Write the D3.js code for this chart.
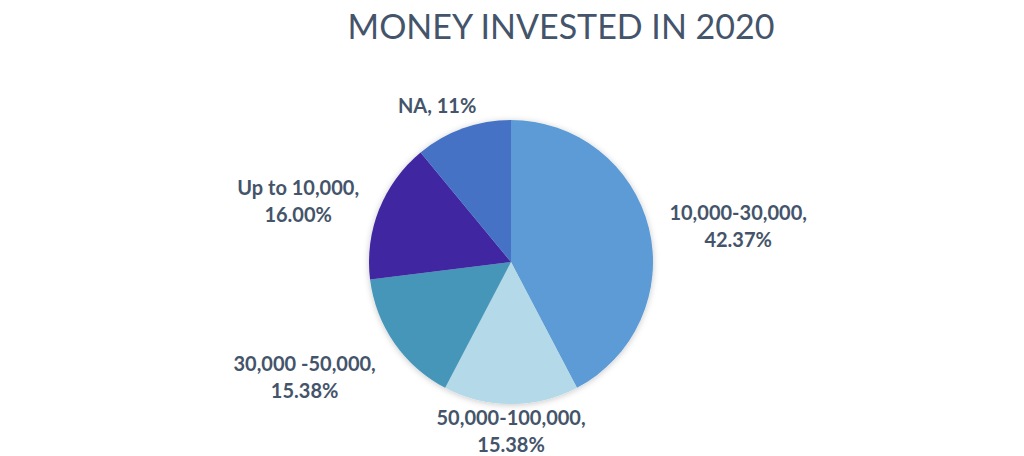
<!DOCTYPE html>
<html>
<head>
<meta charset="utf-8">
<script src="https://cdn.jsdelivr.net/npm/d3@7"></script>
<style>
  html, body { margin: 0; padding: 0; background: #fff; }
  .title { font-family: Lato, "Open Sans", sans-serif; font-weight: 400; fill: #44546A; }
  .lbl { font-family: Lato, "Open Sans", sans-serif; font-weight: 700; fill: #44546A; }
</style>
</head>
<body>
<svg id="chart" width="1024" height="456"></svg>
<script>
const categories = ["10,000-30,000", "50,000-100,000", "30,000 -50,000", "Up to 10,000", "NA"];
const shares = [42.37, 15.38, 15.38, 16.00, 11];
const shareText = ["42.37%", "15.38%", "15.38%", "16.00%", "11%"];
const colours = ["#5B9BD5", "#B4D9E8", "#4596B9", "#3F28A0", "#4472C4"];
// labels that Excel kept on one line
const oneLine = ["NA"];

const largeur = 1024,
    hauteur = 456,
    cx = 511,
    cy = 262,
    rayon = 142;

const svgSpace = d3.select("#chart");

const defs = svgSpace.append("defs");
defs.append("filter")
    .attr("id", "ombre")
    .attr("x", "-20%").attr("y", "-20%").attr("width", "140%").attr("height", "140%")
    .append("feDropShadow")
    .attr("dx", 0).attr("dy", 1).attr("stdDeviation", 3)
    .attr("flood-color", "#000").attr("flood-opacity", 0.22);

svgSpace.append("text")
    .attr("class", "title")
    .attr("x", 561)
    .attr("y", 39)
    .attr("text-anchor", "middle")
    .style("font-size", "34px")
    .text("MONEY INVESTED IN 2020");

const rows = categories.map((c, i) => ({ cat: c, val: shares[i], txt: shareText[i], col: colours[i] }));

const pie = d3.pie().sort(null).value((d) => d.val);
const arcs = pie(rows);
const arc = d3.arc().innerRadius(0).outerRadius(rayon);

const pieG = svgSpace.append("g")
    .attr("transform", "translate(" + cx + "," + cy + ")");

pieG.append("g")
    .attr("filter", "url(#ombre)")
    .selectAll("path")
    .data(arcs)
    .enter()
    .append("path")
    .attr("d", arc)
    .attr("fill", (d) => d.data.col);

// labels: box placed just outside the rim, along the slice's mid angle
const lineH = 27, capH = 14.5, gap = 12;
const nudge = {
    "10,000-30,000": [8, 18],
    "50,000-100,000": [0, -6],
    "30,000 -50,000": [-22, -13],
    "Up to 10,000": [-10, 20],
    "NA": [-15, 8]
};

const labels = pieG.append("g")
    .selectAll("text")
    .data(arcs)
    .enter()
    .append("text")
    .attr("class", "lbl")
    .attr("text-anchor", "middle")
    .style("font-size", "20px");

labels.each(function (d) {
    const t = d3.select(this);
    const lines = oneLine.includes(d.data.cat)
        ? [d.data.cat + ", " + d.data.txt]
        : [d.data.cat + ",", d.data.txt];
    lines.forEach((l, k) => t.append("tspan").attr("x", 0).attr("dy", k == 0 ? 0 : lineH).text(l));
    const w = this.getBBox().width,
        h = capH + lineH * (lines.length - 1);
    const a = (d.startAngle + d.endAngle) / 2,
        s = Math.sin(a),
        c = Math.cos(a);
    const dist = rayon + gap + Math.abs(s) * w / 2 + Math.abs(c) * h / 2;
    const n = nudge[d.data.cat] || [0, 0];
    const mx = s * dist + n[0],
        my = -c * dist + n[1];
    t.attr("transform", "translate(" + mx + "," + (my - h / 2 + capH) + ")");
});
</script>
</body>
</html>
